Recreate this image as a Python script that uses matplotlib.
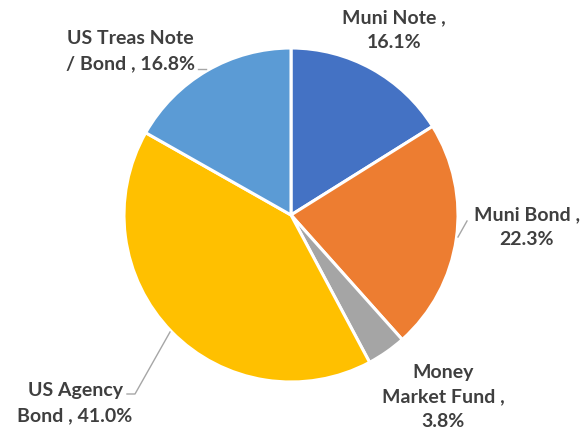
import matplotlib
matplotlib.use("Agg")
import matplotlib.pyplot as plt

# Portfolio allocation by security type
categories = ["Muni Note", "Muni Bond", "Money\nMarket Fund", "US Agency\nBond", "US Treas Note\n/ Bond"]
shares = [16.1, 22.3, 3.8, 41.0, 16.8]
colors = ["#4472C4", "#ED7D31", "#A5A5A5", "#FFC000", "#5B9BD5"]

W, H = 588, 435
fig = plt.figure(figsize=(W / 100, H / 100), dpi=100)
ax = fig.add_axes([0, 0, 1, 1])

cx, cy, r = 291, H - 216, 167
ax.pie(shares, colors=colors, startangle=90, counterclock=False,
       center=(cx, cy), radius=r, frame=True,
       wedgeprops=dict(edgecolor="white", linewidth=2.2))
ax.set_xlim(0, W)
ax.set_ylim(0, H)
ax.set_aspect("equal")
ax.axis("off")

# label text and placement (pixel coords from top-left)
label_text = [
    f"Muni Note ,\n{shares[0]:.1f}%",
    f"Muni Bond ,\n{shares[1]:.1f}%",
    f"Money\nMarket Fund ,\n{shares[2]:.1f}%",
    f"US Agency\nBond , {shares[3]:.1f}%",
    f"US Treas Note\n/ Bond , {shares[4]:.1f}%",
]
label_pos = [(394, 30), (527, 227), (443, 397), (75, 403), (130, 51)]
for txt, (x, y) in zip(label_text, label_pos):
    ax.text(x, H - y, txt, ha="center", va="center", fontsize=14,
            fontweight="bold", color="#3F3F3F", family="Lato",
            linespacing=1.55)

# leader lines
leaders = [
    [(458, 238), (467, 222)],
    [(170, 333), (135, 395), (127, 395)],
    [(206, 70), (198, 70)],
]
for pts in leaders:
    xs = [p[0] for p in pts]
    ys = [H - p[1] for p in pts]
    ax.plot(xs, ys, color="#A6A6A6", linewidth=1.0)

fig.savefig("out.png", dpi=100, facecolor="white")
